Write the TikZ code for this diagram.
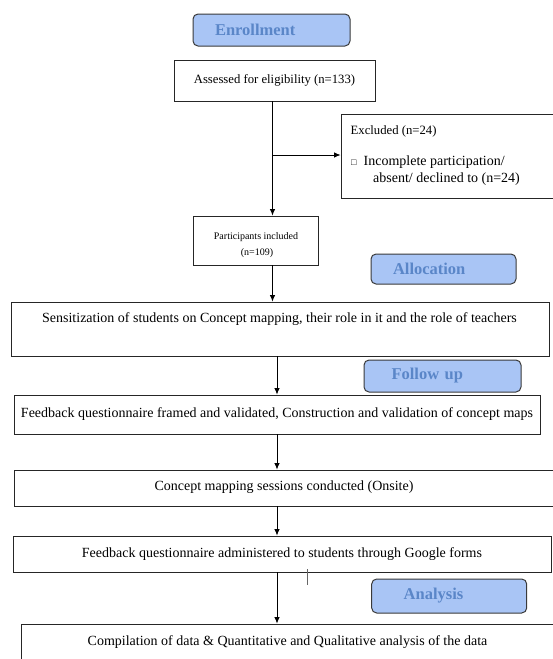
\documentclass[tikz,border=0pt]{standalone}
\usepackage{fontspec}
\setmainfont{Liberation Serif}
\usetikzlibrary{arrows.meta}
\definecolor{phfill}{HTML}{A9C5F5}
\definecolor{phtext}{HTML}{5A86C8}
\definecolor{phline}{HTML}{3A3A3A}
\begin{document}
\begin{tikzpicture}[x=1pt,y=-1pt,
  box/.style={draw=black!85, line width=0.9pt, rectangle, inner sep=0pt, align=center},
  phase/.style={draw=phline, line width=1pt, fill=phfill, rounded corners=5pt, text=phtext, font=\fontsize{16.5}{18}\selectfont\bfseries, inner ysep=0pt, align=left},
  arr/.style={-{Latex[length=6.5pt,width=5.5pt]}, line width=0.8pt},
  big/.style={font=\fontsize{14}{16}\selectfont},
  mid/.style={font=\fontsize{12.7}{15}\selectfont},
  small/.style={font=\fontsize{10}{12}\selectfont}]
\useasboundingbox (0,0) rectangle (552,659);
\coordinate (up) at (272.5,0);
\coordinate (lo) at (277,0);
% phases
\node[phase, inner xsep=22pt, text width=113pt, minimum height=32pt] (enr) at (271.5,30) {Enrollment};
\node[phase, inner xsep=22pt, text width=101pt, minimum height=30pt] (alloc) at (443.5,269) {Allocation};
\node[phase, inner xsep=27.5pt, text width=102pt, minimum height=32pt] (fup) at (442.5,376) {Follow up};
\node[phase, inner xsep=32pt, text width=91pt, minimum height=34pt] (ana) at (449.2,596) {Analysis};
% boxes
\node[box, mid, minimum width=201pt, minimum height=41pt] (assess) at (274.5,80.5) {Assessed for eligibility (n=133)};
\node[box, minimum width=220pt, minimum height=84pt] (excl) at (451,156) {};
\node[font=\fontsize{12.7}{15}\selectfont, anchor=west, inner sep=0pt] (ex1) at (350.5,131) {Excluded (n=24)};
\node[big, anchor=west, inner sep=0pt] (ex2) at (351,162) {\fontsize{9}{10}\selectfont □\fontsize{14}{16}\selectfont\ \ Incomplete participation/};
\node[big, anchor=west, inner sep=0pt] (ex3) at (373,179.5) {absent/ declined to (n=24)};
\node[box, minimum width=125pt, minimum height=49pt] (part) at (255.5,240.5) {};
\node[small, inner sep=0pt] (pt1) at (256,237) {Participants included};
\node[small, inner sep=0pt] (pt2) at (257,253.5) {(n=109)};
\node[box, minimum width=538pt, minimum height=54pt] (sens) at (280,329) {};
\node[big, inner sep=0pt] (senst) at (279.5,319) {Sensitization of students on Concept mapping, their role in it and the role of teachers};
\node[box, big, minimum width=526pt, minimum height=39pt] (fq) at (277,414.5) {Feedback questionnaire framed and validated, Construction and validation of concept maps};
\node[box, minimum width=545pt, minimum height=36pt] (cm) at (286.5,488) {};
\node[big, inner sep=0pt] (cmt) at (284,487) {Concept mapping sessions conducted (Onsite)};
\node[box, big, minimum width=538pt, minimum height=36pt] (adm) at (282,554) {Feedback questionnaire administered to students through Google forms};
\node[box, minimum width=540pt, minimum height=56pt] (comp) at (291.7,652) {};
\node[big, inner sep=0pt] (compt) at (287.5,642) {Compilation of data \& Quantitative and Qualitative analysis of the data};
% connectors
\draw[arr] (assess.south -| up) -- (part.north -| up);
\coordinate (br) at (272.5,155);
\draw[arr] (br) -- (br -| excl.west);
\draw[arr] (part.south -| up) -- (sens.north -| up);
\draw[arr] (sens.south -| lo) -- (fq.north -| lo);
\draw[arr] (fq.south -| lo) -- (cm.north -| lo);
\draw[arr] (cm.south -| lo) -- (adm.north -| lo);
\draw[arr] (adm.south -| lo) -- (comp.north -| lo);
\coordinate (tk1) at (307.5,569);
\coordinate (tk2) at (307.5,585);
\draw[line width=0.7pt, black!60] (tk1) -- (tk2);
\end{tikzpicture}
\end{document}
